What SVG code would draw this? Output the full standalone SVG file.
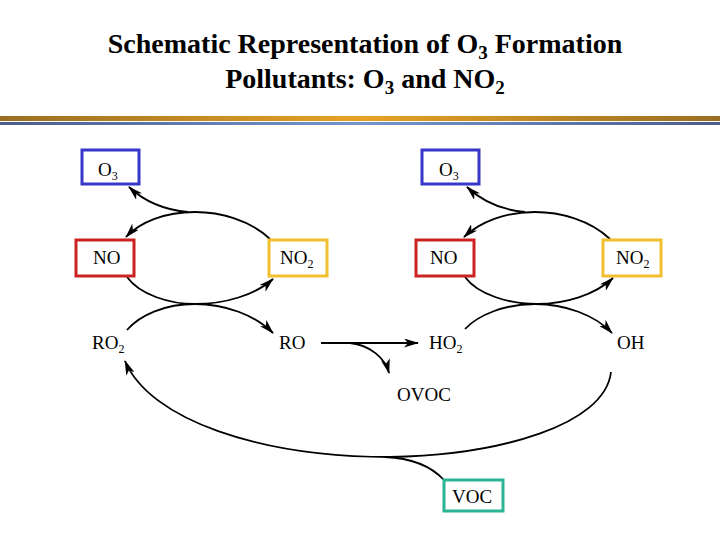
<svg xmlns="http://www.w3.org/2000/svg" width="720" height="540" viewBox="0 0 720 540">
<defs>
<linearGradient id="gOr" x1="0" x2="1" y1="0" y2="0">
<stop offset="0" stop-color="#9a6e22"/><stop offset="0.5" stop-color="#e8a224"/><stop offset="1" stop-color="#9a6e22"/>
</linearGradient>
<linearGradient id="gBl" x1="0" x2="1" y1="0" y2="0">
<stop offset="0" stop-color="#4d5c8a"/><stop offset="0.5" stop-color="#7496cc"/><stop offset="1" stop-color="#4d5c8a"/>
</linearGradient>
<marker id="ah" viewBox="0 0 15 9" refX="14" refY="4.5" markerWidth="15" markerHeight="9" markerUnits="userSpaceOnUse" orient="auto">
<path d="M0,0 L15,4.5 L0,9 L4,4.5 Z" fill="#000"/>
</marker>
<style>
.t{font-family:"Liberation Serif","Times New Roman",serif;font-size:19px;fill:#000}
.s{font-size:12px}
.ti{font-family:"Liberation Serif","Times New Roman",serif;font-size:28px;font-weight:bold;fill:#000}
.ts{font-size:19px}
.c{fill:none;stroke:#000;stroke-width:1.8}
.a{marker-end:url(#ah)}
.box{fill:#fff;stroke-width:3}
</style>
</defs>
<rect width="720" height="540" fill="#fff"/>
<g id="title">
<text class="ti" x="365" y="53" text-anchor="middle">Schematic Representation of O<tspan class="ts" dy="6">3</tspan><tspan dy="-6"> Formation</tspan></text>
<text class="ti" x="365" y="88" text-anchor="middle">Pollutants: O<tspan class="ts" dy="6">3</tspan><tspan dy="-6"> and NO</tspan><tspan class="ts" dy="6">2</tspan></text>
</g>
<g id="bars">
<rect x="0" y="116" width="720" height="5" fill="url(#gOr)"/>
<rect x="0" y="122" width="720" height="3" fill="url(#gBl)"/>
</g>
<g id="connectors">
<path class="c a" d="M270,239 C250,220 220,212 195,212 C165,212 140,222 126,237"/>
<path class="c a" d="M188,212 C165,210 145,202 129,187"/>
<path class="c a" d="M127,277 C140,295 170,304 195,304 C225,304 255,295 273,279"/>
<path class="c a" d="M127,330 C140,315 165,304 195,304 C225,304 255,315 273,333"/>
<path class="c a" d="M610,239 C590,220 560,212 535,212 C505,212 480,222 464,237"/>
<path class="c a" d="M525,212 C502,210 483,202 467,187"/>
<path class="c a" d="M465,277 C478,295 510,304 537,304 C565,304 595,295 613,278"/>
<path class="c a" d="M465,329 C478,315 505,304 535,304 C565,304 595,315 612,333"/>
<path class="c a" d="M321,343 L418,343"/>
<path class="c a" d="M350,343 C370,345 385,358 389,373"/>
<path class="c a" d="M611,372 C605,425 500,455 390,457 C260,457 150,420 125,361"/>
<path class="c" d="M444,480 C430,465 410,458 385,457"/>
</g>
<g id="O3_left"><rect class="box" x="82" y="150" width="57" height="34" stroke="#3636c8"/><text class="t" x="98" y="176">O<tspan class="s" dy="4">3</tspan></text></g>
<g id="NO_left"><rect class="box" x="76" y="240" width="58" height="36" stroke="#cc2222"/><text class="t" x="93" y="264">NO</text></g>
<g id="NO2_left"><rect class="box" x="269" y="240" width="58" height="36" stroke="#f0c030"/><text class="t" x="280" y="264">NO<tspan class="s" dy="4">2</tspan></text></g>
<g id="RO2"><text class="t" x="92" y="349">RO<tspan class="s" dy="4">2</tspan></text></g>
<g id="RO"><text class="t" x="279" y="349">RO</text></g>
<g id="O3_right"><rect class="box" x="422" y="150" width="57" height="34" stroke="#3636c8"/><text class="t" x="439" y="176">O<tspan class="s" dy="4">3</tspan></text></g>
<g id="NO_right"><rect class="box" x="416" y="240" width="58" height="36" stroke="#cc2222"/><text class="t" x="430" y="264">NO</text></g>
<g id="NO2_right"><rect class="box" x="603" y="240" width="58" height="36" stroke="#f0c030"/><text class="t" x="616" y="264">NO<tspan class="s" dy="4">2</tspan></text></g>
<g id="HO2"><text class="t" x="429" y="349">HO<tspan class="s" dy="4">2</tspan></text></g>
<g id="OH"><text class="t" x="617" y="349">OH</text></g>
<g id="OVOC"><text class="t" x="397" y="401">OVOC</text></g>
<g id="VOC"><rect class="box" x="444" y="480" width="59" height="31" stroke="#2ab596"/><text class="t" x="452" y="503">VOC</text></g>
</svg>
